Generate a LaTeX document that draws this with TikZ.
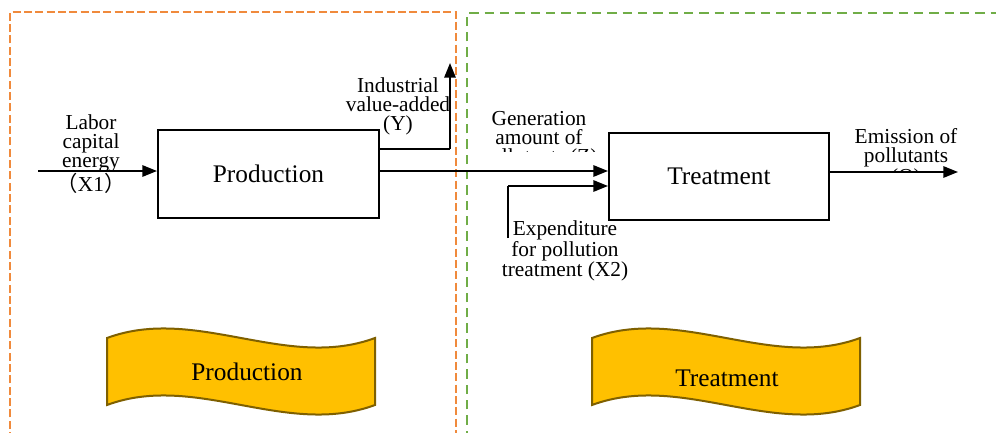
\documentclass[tikz,border=0pt]{standalone}
\usepackage{fontspec}
\setmainfont{Liberation Serif}
\newfontfamily\cjkfont{Noto Sans CJK SC}
\usetikzlibrary{arrows.meta}
\definecolor{orangeline}{HTML}{F08A3C}
\definecolor{greenline}{HTML}{70AD47}
\definecolor{bannerfill}{HTML}{FFC000}
\definecolor{bannerline}{HTML}{7F6000}
\begin{document}
\begin{tikzpicture}[x=0.75pt,y=-0.75pt,
  procbox/.style={draw,line width=1.5pt,minimum width=165.75pt,minimum height=66pt,font=\fontsize{19}{22}\selectfont},
  lbl/.style={align=center,inner sep=0pt,font=\fontsize{16}{14.3}\selectfont},
  bigtext/.style={inner sep=0pt,font=\fontsize{19}{22}\selectfont},
  arr/.style={line width=1.5pt,-{Triangle[length=11pt,width=8.5pt]}},
  thinline/.style={line width=1pt},
  banner/.style={fill=bannerfill,draw=bannerline,line width=1.5pt},
  orangezone/.style={draw=orangeline,line width=1.6pt,dash pattern=on 6pt off 2.5pt},
  greenzone/.style={draw=greenline,line width=1.6pt,dash pattern=on 7pt off 4.5pt}]
\clip (0,0) rectangle (996,432);
\fill[white] (0,0) rectangle (996,432);
% zones
\draw[orangezone] (10,440) -- (10,12) -- (456,12) -- (456,440);
\draw[greenzone] (467,440) -- (467,13) -- (1005,13);
% boxes
\node[procbox] (prod) at (268.5,174) {Production};
\node[procbox,minimum width=165pt,minimum height=65.25pt] (treat) at (719,176.5) {Treatment};
% coordinates
\coordinate (in1) at (38,171);
\coordinate (ytop) at (450,63);
\coordinate (x2) at (508,238);
\coordinate (qend) at (958,172);
% connectors
\draw[arr] (in1) -- (in1 -| prod.west);
\draw[arr] (prod.east |- in1) -- (treat.west |- in1);
\draw[thinline] (prod.east |- 0,149) -- (450,149);
\draw[arr] (450,149) -- (ytop);
\draw[thinline] (x2) -- (508,186);
\draw[arr] (508,186) -- (treat.west |- 0,186);
\draw[arr] (treat.east |- qend) -- (qend);
% labels
\node[lbl] (l1) at (91,154) {Labor\\capital\\energy\\{\cjkfont （}X1{\cjkfont ）}};
\node[lbl] (ly) at (398,106) {Industrial\\value-added\\(Y)};
\begin{scope}
\clip (470,95) rectangle (610,151.5);
\node[lbl] (lz) at (539,140) {Generation\\amount of\\pollutants (Z)};
\end{scope}
\node[lbl] (lx2) at (565,251) {Expenditure\\for pollution\\treatment (X2)};
\begin{scope}
\clip (840,115) rectangle (996,170);
\node[lbl] (lq) at (906,158) {Emission of\\pollutants\\(Q)};
\end{scope}
% banners
\path[banner] (107,338) .. controls (196,305) and (286,371) .. (375,338) -- (375,405) .. controls (286,438) and (196,372) .. (107,405) -- cycle;
\node[bigtext] (bprod) at (247,372) {Production};
\path[banner] (592,338) .. controls (681,305) and (771,371) .. (860,338) -- (860,405) .. controls (771,438) and (681,372) .. (592,405) -- cycle;
\node[bigtext] (btreat) at (727,378) {Treatment};
\end{tikzpicture}
\end{document}
